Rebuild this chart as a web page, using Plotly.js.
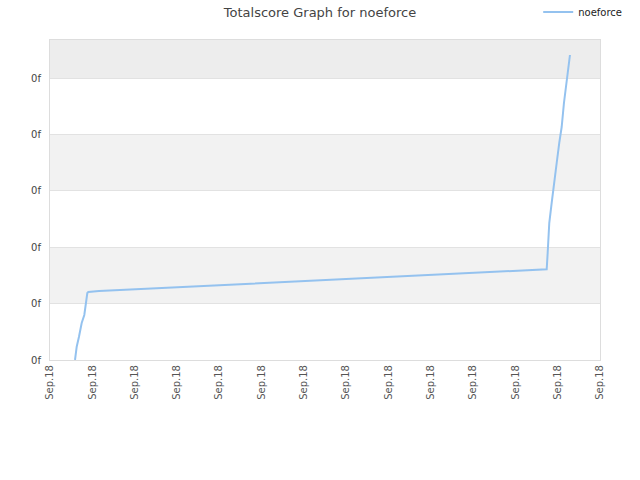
<!DOCTYPE html>
<html>
<head>
<meta charset="utf-8">
<script src="https://cdn.plot.ly/plotly-3.0.1.min.js"></script>
<style>html,body{margin:0;padding:0;background:#fff;}#chart{width:640px;height:480px;}</style>
</head>
<body>
<div id="chart"></div>
<script>
// time positions (in tick units) and total score values
const xValues = [0.591, 0.631, 0.685, 0.749, 0.811, 0.851, 0.882, 0.905,
  1.158, 1.654, 2.151, 2.647, 3.120, 3.616, 4.113, 4.609, 5.105, 5.601, 6.098, 6.571,
  7.067, 7.563, 8.060, 8.556, 9.052, 9.549, 10.021, 10.518, 11.014, 11.510,
  11.740, 11.763, 11.780, 11.801, 11.858, 11.919, 11.976, 12.037, 12.094, 12.148, 12.196, 12.243, 12.290];
const scoreValues = [0, 0.236, 0.413, 0.656, 0.798, 1.01, 1.188, 1.206,
  1.223, 1.241, 1.259, 1.277, 1.294, 1.312, 1.330, 1.348, 1.365, 1.383, 1.401, 1.418,
  1.436, 1.454, 1.472, 1.489, 1.507, 1.525, 1.543, 1.560, 1.578, 1.596,
  1.608, 1.897, 2.216, 2.429, 2.784, 3.191, 3.493, 3.848, 4.131, 4.557, 4.840, 5.142, 5.408];
const xTickVals = [0,1,2,3,4,5,6,7,8,9,10,11,12,13];
const xTickText = ["Sep.18","Sep.18","Sep.18","Sep.18","Sep.18","Sep.18","Sep.18","Sep.18","Sep.18","Sep.18","Sep.18","Sep.18","Sep.18","Sep.18"];
const yTickVals = [0,1,2,3,4,5];
const yTickText = ["0f","0f","0f","0f","0f","0f"];
const seriesName = "noeforce";
const yTop = 5.674;

const bandColors = ["#ffffff","#f2f2f2","#ffffff","#f2f2f2","#ffffff","#ededed"];
const shapes = yTickVals.map((v, i) => ({
  type: 'rect', xref: 'paper', yref: 'y', x0: 0, x1: 1,
  y0: v, y1: (i + 1 < yTickVals.length ? yTickVals[i + 1] : yTop),
  fillcolor: bandColors[i], line: {width: 0}, layer: 'below'
}));

const trace = {
  x: xValues, y: scoreValues, type: 'scatter', mode: 'lines', name: seriesName,
  line: {color: '#94c2ef', width: 2}
};

const layout = {
  width: 640, height: 480,
  margin: {l: 50, r: 40, t: 40, b: 120, autoexpand: false},
  paper_bgcolor: '#ffffff', plot_bgcolor: 'rgba(0,0,0,0)',
  font: {family: 'DejaVu Sans, sans-serif', size: 10, color: '#444'},
  title: {text: 'Totalscore Graph for noeforce', x: 0.5, xanchor: 'center', y: 0.975, yanchor: 'middle',
          font: {family: 'DejaVu Sans, sans-serif', size: 13, color: '#444'}},
  showlegend: true,
  legend: {xref: 'container', yref: 'container', x: 0.98, xanchor: 'right', y: 0.975, yanchor: 'middle',
           bgcolor: 'rgba(0,0,0,0)', font: {size: 10, color: '#222'}, itemwidth: 30},
  xaxis: {range: [0, 13], tickvals: xTickVals, ticktext: xTickText, tickangle: -90,
          showgrid: false, zeroline: false, showline: true, linecolor: '#dddddd', mirror: true,
          ticks: '', tickfont: {size: 10, color: '#555'}, fixedrange: true},
  yaxis: {range: [0, yTop], tickvals: yTickVals, ticktext: yTickText,
          showgrid: true, gridcolor: '#e2e2e2', zeroline: false, showline: true, linecolor: '#dddddd', mirror: true,
          ticks: '', ticklabelstandoff: 6, tickfont: {size: 10, color: '#444'}, fixedrange: true},
  shapes: shapes
};

Plotly.newPlot('chart', [trace], layout, {displayModeBar: false, staticPlot: true});
</script>
</body>
</html>
